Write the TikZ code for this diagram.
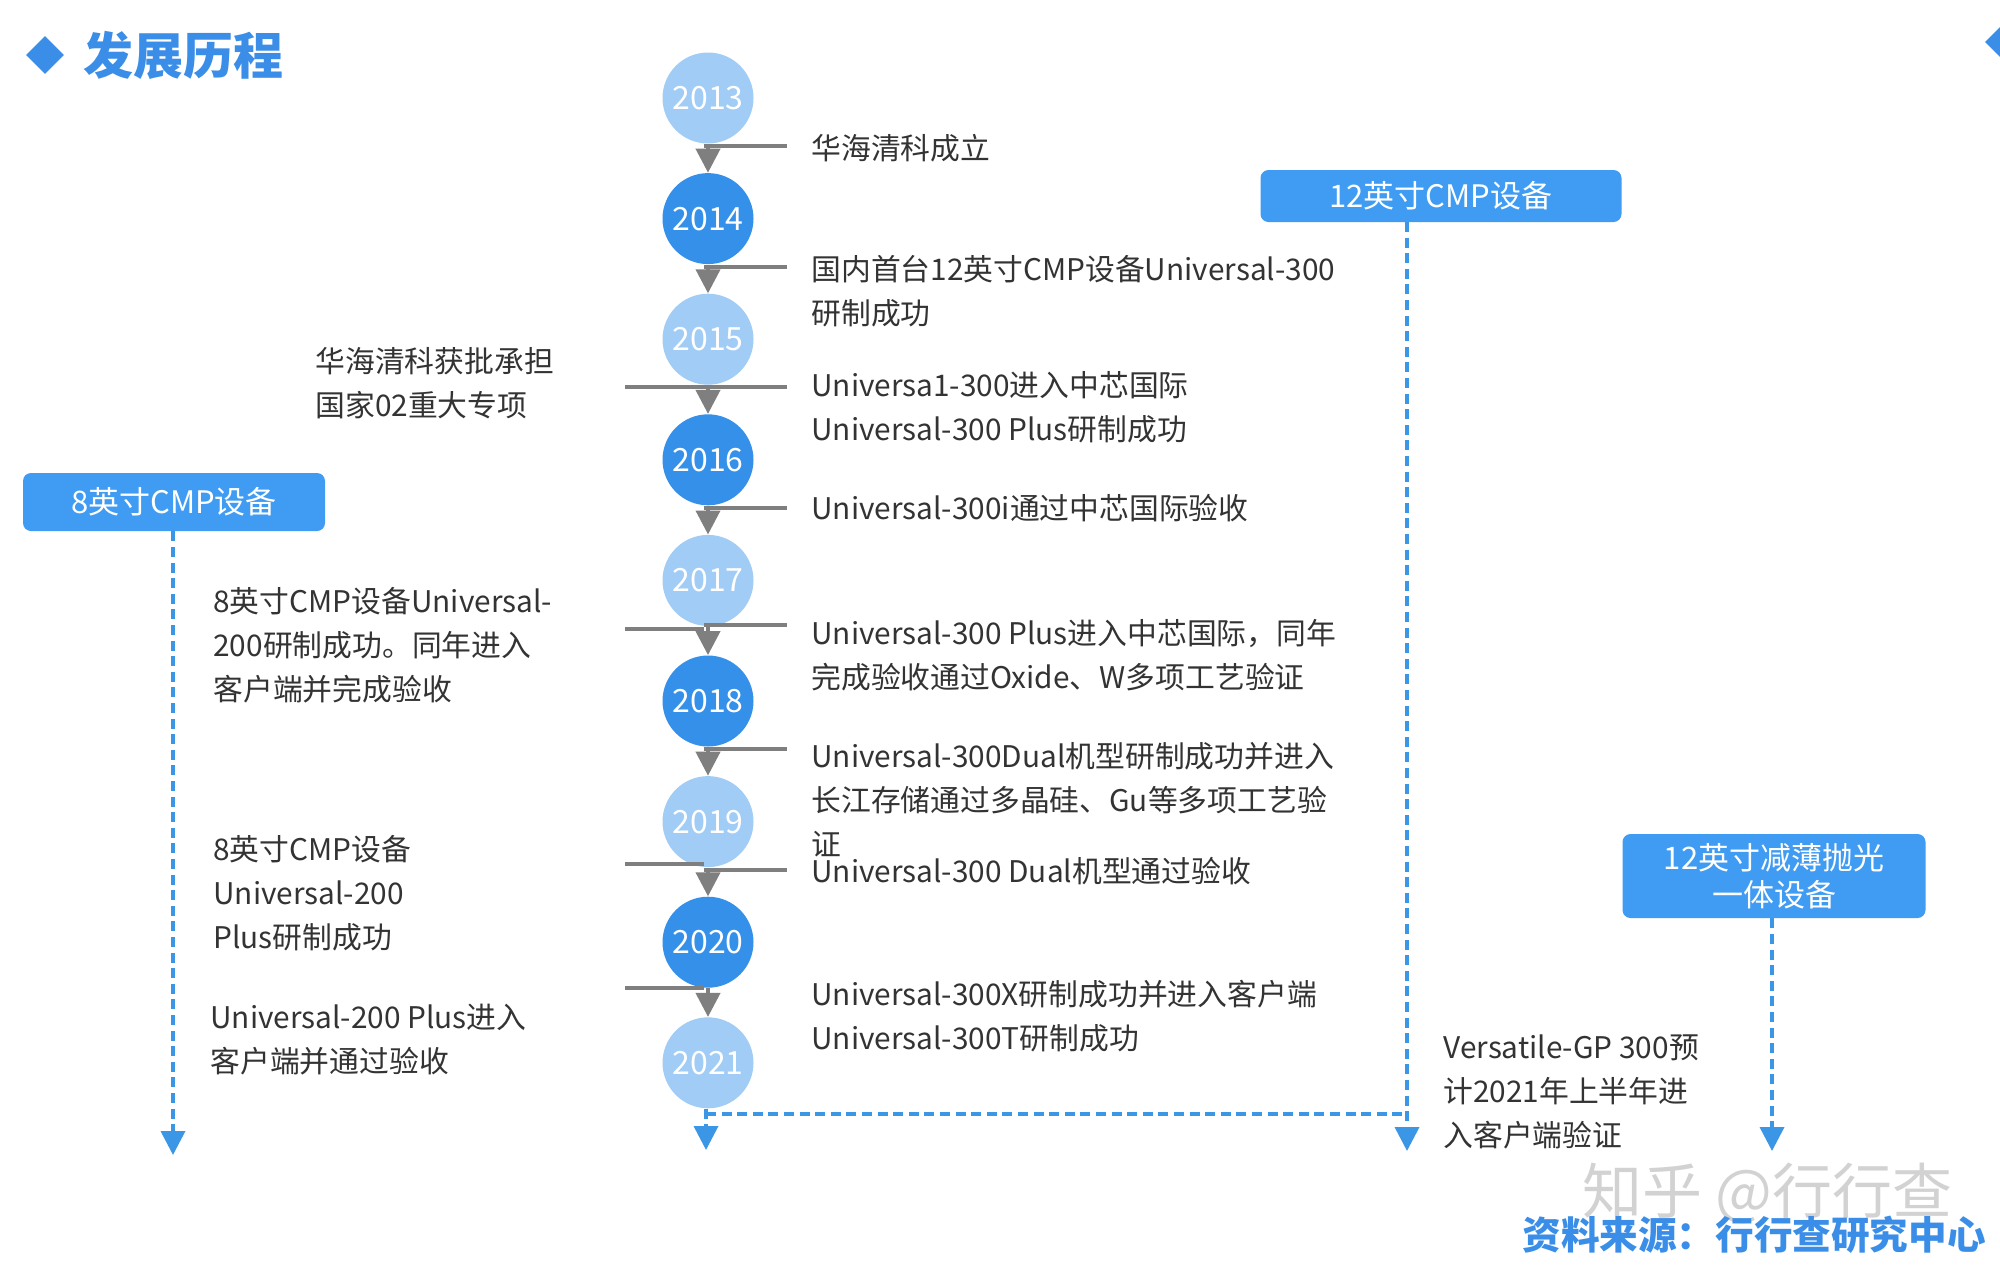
\documentclass[tikz,border=0pt]{standalone}
\usepackage{fontspec}
\setmainfont{Noto Sans CJK SC}
\usetikzlibrary{arrows.meta,shapes.geometric}
\definecolor{lightc}{HTML}{A0CCF5}
\definecolor{darkc}{HTML}{3590EA}
\definecolor{boxc}{HTML}{409CF2}
\definecolor{dashc}{HTML}{3C96E6}
\definecolor{titlec}{HTML}{3A8EE8}
\definecolor{conn}{HTML}{7F7F7F}
\definecolor{txt}{HTML}{333333}
\begin{document}
\begin{tikzpicture}[x=0.5pt,y=-0.5pt,
 yearlight/.style={circle,fill=lightc,minimum size=45.5pt,inner sep=0pt,text=white,font=\fontsize{16}{18}\selectfont},
 yeardark/.style={yearlight,fill=darkc},
 lbl/.style={anchor=west,align=left,inner sep=0pt,text=txt,font=\fontsize{14.9}{22}\selectfont},
 catbox/.style={rounded corners=4pt,fill=boxc,text=white,inner sep=0pt,align=center,font=\fontsize{15.5}{18.5}\selectfont},
 grayln/.style={draw=conn,line width=2pt},
 grayarr/.style={draw=conn,line width=2pt,-{Triangle[width=12pt,length=12pt]}},
 dashln/.style={draw=dashc,line width=1.8pt,dash pattern=on 5pt off 2.8pt},
 dasharr/.style={dashln,-{Triangle[width=12pt,length=12pt]}},
]
\useasboundingbox[fill=white] (0,0) rectangle (2000,1270);

% title
\node[diamond,aspect=1,fill=titlec,inner sep=0pt,minimum size=19pt] (tdia) at (45,55) {};
\node[anchor=west,inner sep=0pt,text=titlec,font=\fontsize{25}{30}\selectfont\bfseries] (title) at (83,55) {发展历程};
\node[diamond,aspect=1,fill=titlec,inner sep=0pt,minimum size=20pt] (tdia2) at (2005,42) {};

% year circles
\node[yearlight] (c13) at (708,98) {2013};
\node[yeardark]  (c14) at (708,218.6) {2014};
\node[yearlight] (c15) at (708,339.2) {2015};
\node[yeardark]  (c16) at (708,459.8) {2016};
\node[yearlight] (c17) at (708,580.4) {2017};
\node[yeardark]  (c18) at (708,701) {2018};
\node[yearlight] (c19) at (708,821.6) {2019};
\node[yeardark]  (c20) at (708,942.2) {2020};
\node[yearlight] (c21) at (708,1062.8) {2021};

% gray connectors
\draw[grayarr] (c13.south) -- (c14.north);
\draw[grayarr] (c14.south) -- (c15.north);
\draw[grayarr] (c15.south) -- (c16.north);
\draw[grayarr] (c16.south) -- (c17.north);
\draw[grayarr] (c17.south) -- (c18.north);
\draw[grayarr] (c18.south) -- (c19.north);
\draw[grayarr] (c19.south) -- (c20.north);
\draw[grayarr] (c20.south) -- (c21.north);

\coordinate (g0) at (704,146);   \coordinate (g0r) at (787,146);
\coordinate (g1) at (704,266.6); \coordinate (g1r) at (787,266.6);
\coordinate (g2) at (704,387.2); \coordinate (g2r) at (787,387.2); \coordinate (g2l) at (625,387.2);
\coordinate (g3) at (704,507.8); \coordinate (g3r) at (787,507.8);
\coordinate (g4) at (704,625);   \coordinate (g4r) at (787,625);
\coordinate (g4a) at (704,629);  \coordinate (g4l) at (625,629);
\coordinate (g5) at (704,749);   \coordinate (g5r) at (787,749);
\coordinate (g6) at (704,870);   \coordinate (g6r) at (787,870);
\coordinate (g6a) at (704,864);  \coordinate (g6l) at (625,864);
\coordinate (g7) at (704,988);   \coordinate (g7l) at (625,988);

\draw[grayln] (g0) -- (g0r);
\draw[grayln] (g1) -- (g1r);
\draw[grayln] (g2l) -- (g2r);
\draw[grayln] (g3) -- (g3r);
\draw[grayln] (g4) -- (g4r);
\draw[grayln] (g4l) -- (g4a);
\draw[grayln] (g5) -- (g5r);
\draw[grayln] (g6) -- (g6r);
\draw[grayln] (g6l) -- (g6a);
\draw[grayln] (g7l) -- (g7);

% right labels
\node[lbl] (r1) at (811,148) {华海清科成立};
\node[lbl] (r2) at (811,291) {国内首台12英寸CMP设备Universal-300\\研制成功};
\node[lbl] (r3) at (811,407) {Universa1-300进入中芯国际\\Universal-300 Plus研制成功};
\node[lbl] (r4) at (811,508) {Universal-300i通过中芯国际验收};
\node[lbl] (r5) at (811,655) {Universal-300 Plus进入中芯国际，同年\\完成验收通过Oxide、W多项工艺验证};
\node[lbl] (r6) at (811,800) {Universal-300Dual机型研制成功并进入\\长江存储通过多晶硅、Gu等多项工艺验\\证};
\node[lbl] (r7) at (811,871) {Universal-300 Dual机型通过验收};
\node[lbl] (r8) at (811,1016) {Universal-300X研制成功并进入客户端\\Universal-300T研制成功};

% left labels
\node[lbl] (l1) at (315,383) {华海清科获批承担\\国家02重大专项};
\node[lbl] (l2) at (213,645) {8英寸CMP设备Universal-\\200研制成功。同年进入\\客户端并完成验收};
\node[lbl] (l3) at (213,893) {8英寸CMP设备\\Universal-200\\Plus研制成功};
\node[lbl] (l4) at (210,1040) {Universal-200 Plus进入\\客户端并通过验收};
\node[lbl] (v1) at (1443,1092) {Versatile-GP 300预\\计2021年上半年进\\入客户端验证};

% category boxes
\node[catbox,minimum width=180.5pt,minimum height=26pt] (box12) at (1441,196) {12英寸CMP设备};
\node[catbox,minimum width=151pt,minimum height=29pt] (box8) at (174,502) {8英寸CMP设备};
\node[catbox,minimum width=151.5pt,minimum height=42pt] (boxth) at (1774,876) {12英寸减薄抛光\\一体设备};

% dashed connectors
\coordinate (b12top) at (1407,222);
\coordinate (e12) at (1407,1151);
\coordinate (e8) at (173,1155);
\coordinate (eth) at (1772,1151);
\coordinate (e21) at (706,1150);
\coordinate (h1) at (706,1114);
\coordinate (h2) at (1407,1114);
\draw[dasharr] (box8.south -| e8) -- (e8);
\draw[dasharr] (b12top) -- (e12);
\draw[dasharr] (boxth.south -| eth) -- (eth);
\draw[dasharr] (c21.south -| e21) -- (e21);
\draw[dashln] (h1) -- (h2);

% watermark and source
\node[anchor=west,inner sep=0pt,text=gray!35,font=\fontsize{30}{32}\selectfont] (wm) at (1582,1193) {知乎 @行行查};
\node[anchor=east,inner sep=0pt,text=titlec,font=\fontsize{19.3}{22}\selectfont\bfseries] (src) at (1986,1235) {资料来源：行行查研究中心};
\end{tikzpicture}
\end{document}
